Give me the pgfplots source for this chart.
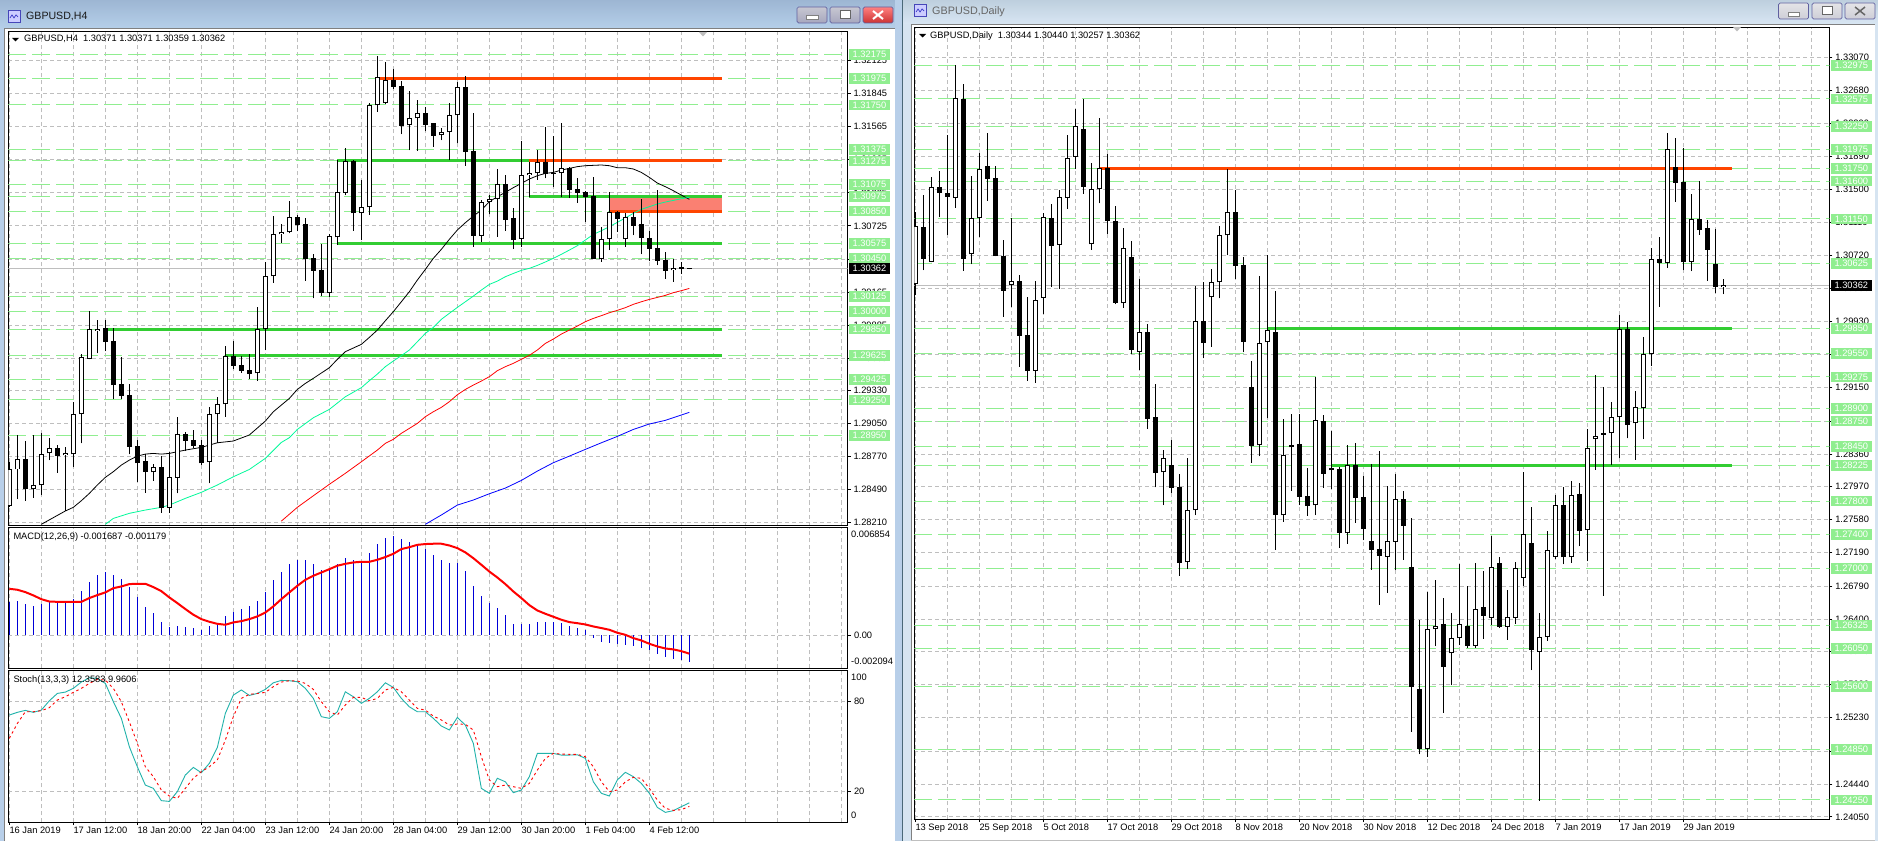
\documentclass[border=0pt]{standalone}
\usepackage{fontspec}
\usepackage{pgfplots}
\usepackage{pgfplotstable}
\pgfplotsset{compat=1.18}
\setmainfont{Liberation Sans}
\definecolor{lg}{RGB}{144,238,144}
\definecolor{gridc}{RGB}{190,190,190}
\definecolor{lime}{RGB}{50,205,50}
\definecolor{orangered}{RGB}{255,69,0}
\definecolor{salmonfill}{RGB}{250,128,114}
\definecolor{macdblue}{RGB}{0,0,215}
\definecolor{maaqua}{RGB}{0,250,154}
\definecolor{stochteal}{RGB}{32,178,170}
\definecolor{bluebord}{RGB}{184,207,233}
\definecolor{lightbord}{RGB}{214,228,241}
\newcommand{\lab}{\fontsize{9.3}{10}\selectfont}

% ---- H4 candles (bull: close above open)
\pgfplotstableread{
k o h l c
0 1.28351 1.28726 1.28345 1.28661
1 1.28661 1.28953 1.28410 1.28746
3 1.28492 1.28953 1.28422 1.28526
4 1.28526 1.28967 1.28444 1.28789
5 1.28797 1.28925 1.28740 1.28839
7 1.28780 1.28854 1.28309 1.28797
8 1.28789 1.29229 1.28684 1.29128
9 1.29128 1.29636 1.28882 1.29611
10 1.29600 1.30003 1.29594 1.29848
11 1.29837 1.29927 1.29644 1.29854
18 1.28636 1.28704 1.28565 1.28679
20 1.28337 1.28811 1.28295 1.28594
21 1.28591 1.29102 1.28459 1.28958
25 1.28721 1.29187 1.28543 1.29128
26 1.29128 1.29272 1.28887 1.29212
27 1.29212 1.29707 1.29108 1.29624
31 1.29475 1.30034 1.29413 1.29848
32 1.29848 1.30419 1.29673 1.30297
33 1.30297 1.30808 1.30243 1.30653
34 1.30653 1.30741 1.30582 1.30670
35 1.30670 1.30936 1.30662 1.30797
40 1.30159 1.30653 1.30125 1.30636
41 1.30628 1.31283 1.30563 1.31009
42 1.31006 1.31385 1.30986 1.31272
44 1.30831 1.31114 1.30605 1.30882
45 1.30882 1.31769 1.30820 1.31746
46 1.31746 1.32164 1.31693 1.31984
47 1.31763 1.32114 1.31758 1.31958
50 1.31577 1.31868 1.31368 1.31636
51 1.31636 1.31792 1.31362 1.31679
54 1.31492 1.31554 1.31452 1.31518
55 1.31518 1.31763 1.31283 1.31662
56 1.31662 1.31941 1.31424 1.31899
59 1.30642 1.30944 1.30591 1.30924
60 1.30924 1.30986 1.30823 1.30950
61 1.30950 1.31207 1.30633 1.31077
64 1.30616 1.31447 1.30549 1.31153
65 1.31153 1.31263 1.30972 1.31170
66 1.31170 1.31368 1.31114 1.31263
69 1.31170 1.31594 1.30967 1.31212
74 1.30447 1.30712 1.30421 1.30611
75 1.30611 1.31012 1.30520 1.30839
77 1.30611 1.30831 1.30549 1.30797
83 1.30348 1.30447 1.30252 1.30365
}\HBull
\pgfplotstableread{
k o h l c
2 1.28746 1.28902 1.28396 1.28492
6 1.28839 1.28867 1.28633 1.28774
12 1.29857 1.29927 1.29664 1.29743
13 1.29746 1.29857 1.29257 1.29376
14 1.29385 1.29611 1.29257 1.29286
15 1.29289 1.29385 1.28789 1.28854
16 1.28859 1.28910 1.28557 1.28712
17 1.28732 1.28792 1.28464 1.28642
19 1.28679 1.28774 1.28295 1.28337
22 1.28958 1.28978 1.28820 1.28905
23 1.28910 1.28995 1.28839 1.28862
24 1.28868 1.28910 1.28698 1.28712
28 1.29624 1.29749 1.29509 1.29540
29 1.29543 1.29622 1.29481 1.29497
30 1.29503 1.29639 1.29430 1.29469
36 1.30797 1.30817 1.30681 1.30735
37 1.30738 1.30789 1.30260 1.30447
38 1.30450 1.30486 1.30111 1.30345
39 1.30348 1.30571 1.30130 1.30159
43 1.31275 1.31283 1.30684 1.30831
48 1.31961 1.32054 1.31888 1.31904
49 1.31907 1.31953 1.31503 1.31574
52 1.31679 1.31735 1.31529 1.31582
53 1.31594 1.31599 1.31396 1.31489
57 1.31899 1.31995 1.31235 1.31354
58 1.31356 1.31679 1.30549 1.30642
62 1.31077 1.31156 1.30684 1.30777
63 1.30789 1.30873 1.30532 1.30608
67 1.31263 1.31566 1.31128 1.31162
68 1.31176 1.31486 1.31057 1.31164
70 1.31212 1.31221 1.30961 1.31032
71 1.31034 1.31130 1.30921 1.31006
72 1.31012 1.31018 1.30760 1.30972
73 1.30975 1.31139 1.30447 1.30447
76 1.30842 1.30851 1.30676 1.30786
78 1.30797 1.30842 1.30647 1.30726
79 1.30738 1.30950 1.30486 1.30625
80 1.30619 1.30684 1.30427 1.30532
81 1.30534 1.31026 1.30393 1.30430
82 1.30433 1.30500 1.30277 1.30345
84 1.30373 1.30418 1.30320 1.30362
85 1.30371 1.30371 1.30359 1.30362
}\HBear

% ---- Daily candles
\pgfplotstableread{
k o h l c
0 1.30374 1.31233 1.30247 1.31063
2 1.30643 1.31652 1.30635 1.31525
5 1.31403 1.32979 1.31285 1.32583
7 1.30730 1.31660 1.30615 1.31158
8 1.31158 1.31930 1.30940 1.31740
12 1.30370 1.31158 1.30109 1.30410
15 1.29349 1.30414 1.29206 1.30184
16 1.30216 1.31217 1.30022 1.31170
18 1.30845 1.31494 1.30323 1.31407
19 1.31403 1.32147 1.31269 1.31871
20 1.31890 1.32456 1.31744 1.32250
22 1.30849 1.31811 1.30782 1.31502
23 1.31502 1.32350 1.31336 1.31752
26 1.30148 1.31039 1.30097 1.30802
28 1.29574 1.30434 1.29356 1.29804
31 1.28141 1.28406 1.27753 1.28307
34 1.27072 1.28307 1.26997 1.27690
35 1.27690 1.30354 1.27634 1.29935
37 1.30220 1.30552 1.29634 1.30398
38 1.30398 1.31067 1.30208 1.30956
39 1.30956 1.31740 1.30722 1.31229
43 1.28462 1.30473 1.28335 1.29673
44 1.29685 1.30722 1.28782 1.29828
46 1.27630 1.28770 1.27555 1.28343
47 1.28438 1.28830 1.27923 1.28462
50 1.27749 1.29273 1.27634 1.28759
52 1.28165 1.28632 1.27943 1.28189
54 1.27425 1.28466 1.27294 1.28224
59 1.27139 1.27979 1.26712 1.27322
60 1.27318 1.28121 1.26981 1.27821
64 1.24851 1.26716 1.24764 1.26276
65 1.26276 1.26862 1.26078 1.26312
67 1.25992 1.26466 1.25615 1.26170
68 1.26170 1.27048 1.26090 1.26336
70 1.26082 1.27060 1.26059 1.26514
72 1.26415 1.27385 1.26328 1.27013
74 1.26308 1.26739 1.26150 1.26419
75 1.26415 1.27072 1.26340 1.27001
76 1.26890 1.28145 1.26795 1.27405
78 1.26011 1.26466 1.24241 1.26189
79 1.26189 1.27444 1.26142 1.27215
80 1.27139 1.27872 1.27116 1.27749
82 1.27131 1.28038 1.27068 1.27868
84 1.27452 1.28656 1.27088 1.28426
85 1.28533 1.29297 1.28169 1.28569
87 1.28604 1.28980 1.28228 1.28794
88 1.28794 1.30010 1.28307 1.29840
90 1.28723 1.29107 1.28288 1.28913
91 1.28901 1.29752 1.28537 1.29543
92 1.29543 1.30806 1.29408 1.30671
94 1.30631 1.32171 1.30572 1.31977
97 1.30643 1.31447 1.30532 1.31146
101 1.30344 1.30440 1.30257 1.30362
}\DBull
\pgfplotstableread{
k o h l c
1 1.31051 1.31434 1.30544 1.30679
3 1.31525 1.31716 1.31170 1.31462
4 1.31458 1.32147 1.30960 1.31415
6 1.32575 1.32753 1.30536 1.30679
9 1.31779 1.32167 1.31368 1.31629
10 1.31637 1.31779 1.30710 1.30710
11 1.30710 1.30900 1.29990 1.30299
13 1.30410 1.30485 1.29396 1.29764
14 1.29772 1.30220 1.29230 1.29349
17 1.31162 1.31328 1.30346 1.30829
21 1.32215 1.32575 1.31447 1.31534
24 1.31752 1.31922 1.30972 1.31130
25 1.31126 1.31304 1.30140 1.30156
27 1.30699 1.30889 1.29547 1.29594
29 1.29812 1.29903 1.28656 1.28774
30 1.28798 1.29190 1.27963 1.28137
32 1.28228 1.28525 1.27900 1.27959
33 1.27967 1.28121 1.26914 1.27068
36 1.29935 1.30398 1.29495 1.29681
40 1.31229 1.31494 1.30441 1.30596
41 1.30600 1.30695 1.29570 1.29693
42 1.29155 1.29463 1.28256 1.28458
45 1.29808 1.30295 1.27219 1.27638
48 1.28478 1.28834 1.27753 1.27852
49 1.27860 1.28192 1.27626 1.27745
51 1.28751 1.28822 1.27959 1.28125
53 1.28177 1.28208 1.27246 1.27425
55 1.28228 1.28490 1.27543 1.27840
56 1.27848 1.28097 1.27337 1.27472
57 1.27326 1.28236 1.26985 1.27222
58 1.27230 1.28394 1.26566 1.27151
61 1.27825 1.27919 1.27100 1.27507
62 1.27013 1.27595 1.25061 1.25595
63 1.25568 1.26387 1.24795 1.24855
66 1.26336 1.26645 1.25286 1.25833
69 1.26316 1.26791 1.26059 1.26082
71 1.26542 1.26969 1.26165 1.26439
73 1.27060 1.27131 1.26296 1.26308
77 1.27298 1.27725 1.25793 1.26035
81 1.27753 1.27967 1.27052 1.27131
83 1.27884 1.28010 1.27266 1.27448
86 1.28604 1.29159 1.26676 1.28589
89 1.29840 1.29931 1.28545 1.28707
93 1.30675 1.30936 1.30109 1.30631
95 1.31767 1.32112 1.31352 1.31581
96 1.31589 1.31997 1.30544 1.30643
98 1.31146 1.31601 1.30960 1.31019
99 1.31039 1.31138 1.30414 1.30786
100 1.30615 1.31031 1.30267 1.30346
}\DBear

% ---- support / resistance levels
\pgfplotstableread{
p
1.32175
1.31975
1.31750
1.31375
1.31275
1.31075
1.30975
1.30850
1.30575
1.30450
1.30125
1.30000
1.29850
1.29625
1.29425
1.29250
1.28950
}\LvlH
\pgfplotstableread{
p
1.32975
1.32575
1.32250
1.31975
1.31750
1.31600
1.31150
1.30625
1.29850
1.29550
1.29275
1.28900
1.28750
1.28450
1.28225
1.27800
1.27400
1.27000
1.26325
1.26050
1.25600
1.24850
1.24250
}\LvlD

% ---- MACD histogram and signal
\pgfplotstableread{
k v s
0 0.00208 0.00295
1 0.00219 0.00289
2 0.00200 0.00274
3 0.00187 0.00253
4 0.00200 0.00229
5 0.00208 0.00214
6 0.00208 0.00212
7 0.00208 0.00212
8 0.00231 0.00212
9 0.00282 0.00212
10 0.00340 0.00236
11 0.00384 0.00255
12 0.00403 0.00272
13 0.00384 0.00299
14 0.00359 0.00310
15 0.00304 0.00325
16 0.00240 0.00327
17 0.00180 0.00327
18 0.00144 0.00306
19 0.00081 0.00280
20 0.00049 0.00240
21 0.00055 0.00204
22 0.00053 0.00166
23 0.00047 0.00130
24 0.00034 0.00102
25 0.00055 0.00085
26 0.00066 0.00072
27 0.00123 0.00066
28 0.00149 0.00081
29 0.00168 0.00089
30 0.00183 0.00102
31 0.00219 0.00119
32 0.00276 0.00144
33 0.00352 0.00183
34 0.00403 0.00229
35 0.00454 0.00272
36 0.00480 0.00314
37 0.00476 0.00352
38 0.00454 0.00378
39 0.00416 0.00399
40 0.00429 0.00420
41 0.00454 0.00442
42 0.00493 0.00454
43 0.00476 0.00463
44 0.00467 0.00467
45 0.00524 0.00467
46 0.00582 0.00480
47 0.00620 0.00497
48 0.00633 0.00518
49 0.00614 0.00548
50 0.00594 0.00560
51 0.00575 0.00575
52 0.00550 0.00580
53 0.00512 0.00582
54 0.00480 0.00582
55 0.00461 0.00571
56 0.00461 0.00554
57 0.00410 0.00527
58 0.00314 0.00490
59 0.00251 0.00448
60 0.00206 0.00405
61 0.00174 0.00367
62 0.00130 0.00325
63 0.00072 0.00278
64 0.00072 0.00236
65 0.00072 0.00191
66 0.00085 0.00157
67 0.00081 0.00136
68 0.00081 0.00117
69 0.00079 0.00098
70 0.00059 0.00083
71 0.00047 0.00076
72 0.00034 0.00068
73 -0.00017 0.00055
74 -0.00042 0.00045
75 -0.00049 0.00034
76 -0.00055 0.00015
77 -0.00062 0.00002
78 -0.00068 -0.00019
79 -0.00081 -0.00034
80 -0.00093 -0.00055
81 -0.00119 -0.00072
82 -0.00138 -0.00085
83 -0.00151 -0.00091
84 -0.00157 -0.00102
85 -0.00169 -0.00118
}\Macd

% ---- Stochastic main and signal
\pgfplotstableread{
k m s
0 70.9 55.3
1 72.7 65.3
2 74.0 73.1
3 72.7 73.1
4 74.2 73.8
5 80.4 75.8
6 85.3 80.9
7 86.2 83.1
8 88.7 86.0
9 92.9 88.7
10 95.8 92.0
11 95.3 94.7
12 92.0 94.2
13 79.8 88.7
14 68.7 79.8
15 49.8 66.4
16 36.4 52.0
17 24.2 36.4
18 22.0 29.8
19 13.8 20.9
20 13.3 16.9
21 19.8 15.3
22 30.9 22.0
23 36.0 28.7
24 32.4 33.1
25 38.7 36.4
26 49.3 40.9
27 72.0 54.2
28 84.2 69.8
29 87.6 82.0
30 84.0 84.7
31 85.3 85.3
32 88.0 86.0
33 92.4 89.8
34 94.0 92.9
35 93.8 93.8
36 93.1 93.6
37 88.7 92.0
38 82.0 88.0
39 69.8 79.8
40 68.7 73.1
41 73.1 70.9
42 86.4 77.6
43 83.1 82.7
44 78.7 82.7
45 82.0 80.4
46 86.4 82.0
47 92.4 87.6
48 89.3 89.3
49 82.0 86.4
50 76.4 80.9
51 73.1 75.3
52 73.1 74.2
53 68.7 70.2
54 63.6 67.6
55 60.9 64.2
56 69.3 64.9
57 64.2 64.7
58 52.0 60.9
59 22.0 43.1
60 18.7 27.6
61 28.7 23.1
62 26.4 24.2
63 19.1 23.1
64 20.9 22.0
65 29.8 25.3
66 45.3 34.2
67 45.3 42.0
68 45.3 45.3
69 44.2 44.9
70 44.2 44.7
71 44.4 44.7
72 42.0 43.1
73 26.4 36.4
74 18.7 26.4
75 16.9 19.8
76 27.6 20.9
77 32.7 26.4
78 29.8 29.3
79 25.3 28.7
80 18.7 22.0
81 9.3 14.2
82 6.0 8.7
83 7.1 7.3
84 9.8 7.8
85 12.36 9.96
}\Stoch

\pgfplotsset{
  pane/.style={scale only axis, axis line style={black, line width=1pt},
    tick style={black, line width=.8pt}, tick align=outside,
    major tick length=3pt, minor tick length=0pt, scaled y ticks=false,
    ticklabel style={font=\lab, text=black},
    grid style={gridc, line width=.8pt, dash pattern=on 4pt off 3pt},
    xmajorgrids, xminorgrids, ymajorgrids,
    ytick pos=right, xtick pos=lower, yticklabel pos=right,
    yticklabel style={anchor=west, inner xsep=0pt, xshift=2.8pt},
    xticklabel style={anchor=north west, inner xsep=0pt, inner ysep=0pt, yshift=-1.5pt}},
  hframe/.style={anchor=south west, width=839.2pt, xmin=-0.13, xmax=104.77},
  dframe/.style={anchor=south west, at={(914.3pt,22pt)}, width=915pt, height=791.5pt,
    xmin=-0.13, xmax=114.25, ymin=1.24024, ymax=1.33424},
  hmain/.style={hframe, at={(8.3pt,315.5pt)}, height=493.5pt, ymin=1.28186, ymax=1.32368},
  nomark/.style={only marks, mark=*, mark size=0pt, mark options={draw=none, fill=none}, forget plot,
    error bars/error mark=none},
  bar/.style 2 args={nomark,
    error bars/y dir=plus, error bars/y explicit,
    error bars/error bar style={solid, line width=#1, color=#2}},
  level/.style={nomark,
    error bars/x dir=plus, error bars/x fixed=200,
    error bars/error bar style={lg, line width=1pt, dash pattern=on 18pt off 6pt}},
  hline/.style={line width=3pt, forget plot, mark=none},
  ma/.style={line width=.8pt, forget plot, mark=none},
  pricebox/.style={only marks, mark=*, mark size=0pt, mark options={draw=none}, forget plot,
    point meta=explicit symbolic, nodes near coords,
    nodes near coords style={anchor=center, inner sep=0pt, minimum width=41pt,
      minimum height=10.7pt, fill=#1, text=white, font=\lab}},
}
\newcommand{\candles}[3]{%
  \addplot[bar={1pt}{black}] table[x=k, y=l, y error plus expr=\thisrow{h}-\thisrow{l}] {#1};
  \addplot[bar={1pt}{black}] table[x=k, y=l, y error plus expr=\thisrow{h}-\thisrow{l}] {#2};
  \addplot[bar={5pt}{black}] table[x=k, y=c, y error plus expr=\thisrow{o}-\thisrow{c}] {#2};
  \addplot[bar={5pt}{black}] table[x=k, y=o, y error plus expr=\thisrow{c}-\thisrow{o}] {#1};
  \addplot[bar={3pt}{white}] table[x=k, y expr=\thisrow{o}+#3, y error plus expr=\thisrow{c}-\thisrow{o}-2*#3] {#1};
}
\newcommand{\winbtn}[6]{% x0 x1 y0 y1 top bottom
  \shade[top color=#5, bottom color=#6, draw=gray!75!blue, rounded corners=1.5pt, line width=.7pt]
    (#1,#3) rectangle (#2,#4);
}
\newcommand{\winicon}[2]{%
  \fill[white!80!blue, draw=blue!45!gray, line width=.7pt] (#1,#2) rectangle ++(12,-12);
  \draw[blue!55!gray, line width=.7pt] (#1+2,#2-8) -- ++(2,3) -- ++(2,-3) -- ++(2,3) -- ++(2,-2);
}

\begin{document}
\begin{tikzpicture}[x=1pt, y=1pt]
\fill[white] (0,0) rectangle (1878,841);
% window chrome
\fill[bluebord] (0,0) rectangle (4,813);
\shade[top color={rgb,255:red,157;green,182;blue,211}, bottom color={rgb,255:red,181;green,207;blue,233}] (0,813) rectangle (895,841);
\draw[gray, line width=.8pt] (4.5,0) -- (4.5,813) -- (895,813);
\fill[bluebord] (895,0) rectangle (901.6,841);
\fill[black!60!cyan] (901.6,0) rectangle (903,841);
\fill[lightbord] (903,0) rectangle (911,817);
\shade[top color={rgb,255:red,190;green,207;blue,222}, bottom color={rgb,255:red,216;green,230;blue,243}] (903,817) rectangle (1878,841);
\draw[gray, line width=.9pt] (911,0.5) -- (911,817) -- (1875,817);
\draw[gray!50, line width=.8pt] (911,0.5) -- (1875,0.5) -- (1875,817);
\fill[lightbord] (1875.4,0) rectangle (1878,817);
\winicon{8}{831}
\winicon{914}{837}
\node[anchor=west, inner sep=0pt, font=\fontsize{10.6}{12}\selectfont, text=black!90] at (26,825) {GBPUSD,H4};
\node[anchor=west, inner sep=0pt, font=\fontsize{10.8}{12}\selectfont, text=black!60] at (932,829) {GBPUSD,Daily};
\winbtn{797}{827}{818}{834}{blue!10!gray!40}{blue!15!gray!60}
\winbtn{830}{860}{818}{834}{blue!10!gray!40}{blue!15!gray!60}
\winbtn{863}{893}{818}{834}{red!50!white}{red!60!gray}
\fill[white, draw=gray, line width=.5pt] (806,822) rectangle (818,826);
\draw[black!60, line width=1pt, fill=white] (840,822) rectangle (850,830);
\draw[white, line width=2pt] (873,822) -- (883,830) (873,830) -- (883,822);
\winbtn{1778.5}{1808.5}{822}{838}{blue!5!gray!20}{blue!10!gray!35}
\winbtn{1812}{1842}{822}{838}{blue!5!gray!20}{blue!10!gray!35}
\winbtn{1845}{1875}{822}{838}{blue!5!gray!20}{blue!10!gray!35}
\fill[white, draw=gray, line width=.5pt] (1788,825) rectangle (1799,829);
\draw[black!60, line width=1pt, fill=white] (1822,826) rectangle (1832,834);
\draw[black!60, line width=1.5pt] (1855,826) -- (1865,834) (1855,834) -- (1865,826);

% H4 main pane
\begin{axis}[pane, hmain, xtick={0,4,...,104}, xticklabels={}, xtick style={draw=none},
  ytick={1.32125,1.31845,1.31565,1.31285,1.31005,1.30725,1.30445,1.30165,1.29885,1.29605,1.29330,1.29050,1.28770,1.28490,1.28210},
  yticklabels={1.32125,1.31845,1.31565,1.31285,1.31005,1.30725,1.30445,1.30165,1.29885,1.29605,1.29330,1.29050,1.28770,1.28490,1.28210}]
\addplot[level] table[x expr=-0.13, y=p] {\LvlH};
\addplot[ma, gridc, line width=1pt] coordinates {(-0.13,1.30362) (104.77,1.30362)};
\addplot[fill=salmonfill, draw=none, forget plot] coordinates {(75,1.30975) (89.05,1.30975) (89.05,1.30850) (75,1.30850)} -- cycle;
\addplot[hline, orangered] coordinates {(46.3,1.31975) (89.05,1.31975)};
\addplot[hline, lime] coordinates {(41,1.31275) (65,1.31275)};
\addplot[hline, orangered] coordinates {(65,1.31275) (89.05,1.31275)};
\addplot[hline, lime] coordinates {(65,1.30975) (89.05,1.30975)};
\addplot[hline, orangered] coordinates {(75,1.30850) (89.05,1.30850)};
\addplot[hline, lime] coordinates {(41,1.30575) (89.05,1.30575)};
\addplot[hline, lime] coordinates {(12,1.29850) (89.05,1.29850)};
\addplot[hline, lime] coordinates {(27,1.29625) (89.05,1.29625)};
\addplot[ma, black] coordinates {(4,1.28196)(7,1.28309)(8,1.28340)(9,1.28396)(10,1.28458)(11,1.28529)(12,1.28594)(13,1.28642)(14,1.28698)(15,1.28740)(16,1.28774)(17,1.28791)(18,1.28797)(19,1.28791)(20,1.28797)(21,1.28811)(22,1.28825)(24,1.28848)(26,1.28887)(28,1.28902)(30,1.28953)(32,1.29071)(33,1.29150)(35,1.29263)(36,1.29339)(37,1.29390)(38,1.29433)(40,1.29523)(41,1.29594)(42,1.29659)(44,1.29721)(45,1.29780)(46,1.29842)(47,1.29921)(48,1.29998)(49,1.30082)(50,1.30167)(51,1.30266)(52,1.30356)(53,1.30450)(54,1.30526)(55,1.30611)(56,1.30690)(57,1.30752)(58,1.30808)(59,1.30859)(60,1.30930)(61,1.30972)(62,1.31009)(63,1.31049)(64,1.31085)(65,1.31122)(66,1.31150)(67,1.31170)(68,1.31178)(69,1.31198)(70,1.31212)(71,1.31227)(72,1.31235)(73,1.31238)(74,1.31241)(75,1.31235)(76,1.31218)(77,1.31218)(78,1.31207)(79,1.31178)(80,1.31136)(81,1.31088)(82,1.31057)(83,1.31023)(84,1.30986)(85,1.30950)};
\addplot[ma, maaqua] coordinates {(12,1.28196)(13,1.28246)(15,1.28289)(17,1.28317)(19,1.28340)(20,1.28359)(22,1.28416)(24,1.28467)(26,1.28529)(28,1.28599)(30,1.28661)(32,1.28755)(34,1.28890)(35,1.28930)(36,1.29000)(38,1.29099)(40,1.29170)(42,1.29277)(44,1.29354)(45,1.29413)(46,1.29469)(47,1.29532)(48,1.29580)(49,1.29625)(50,1.29673)(51,1.29743)(52,1.29814)(53,1.29865)(54,1.29933)(55,1.29984)(56,1.30034)(57,1.30082)(58,1.30130)(59,1.30181)(60,1.30229)(61,1.30257)(62,1.30294)(63,1.30322)(64,1.30348)(65,1.30365)(66,1.30390)(67,1.30419)(68,1.30450)(69,1.30484)(70,1.30520)(71,1.30557)(72,1.30605)(73,1.30653)(74,1.30684)(75,1.30718)(76,1.30755)(77,1.30792)(78,1.30831)(79,1.30865)(80,1.30888)(81,1.30910)(82,1.30927)(83,1.30941)(84,1.30955)(85,1.30967)};
\addplot[ma, red] coordinates {(34,1.28223)(36,1.28340)(38,1.28438)(40,1.28535)(42,1.28628)(44,1.28726)(46,1.28825)(47,1.28882)(48,1.28916)(49,1.28967)(50,1.29009)(51,1.29051)(52,1.29108)(53,1.29150)(54,1.29187)(55,1.29235)(56,1.29294)(57,1.29339)(58,1.29376)(59,1.29410)(60,1.29447)(61,1.29498)(62,1.29532)(63,1.29560)(64,1.29594)(65,1.29628)(66,1.29673)(67,1.29729)(68,1.29766)(69,1.29808)(70,1.29842)(71,1.29876)(72,1.29913)(73,1.29941)(74,1.29964)(75,1.29989)(76,1.30009)(77,1.30032)(78,1.30060)(79,1.30082)(80,1.30102)(81,1.30119)(82,1.30136)(83,1.30159)(84,1.30176)(85,1.30195)};
\addplot[ma, blue] coordinates {(52,1.28196)(54,1.28275)(56,1.28359)(58,1.28402)(60,1.28455)(62,1.28503)(64,1.28568)(66,1.28647)(68,1.28718)(70,1.28774)(72,1.28831)(74,1.28887)(76,1.28941)(78,1.29000)(80,1.29046)(82,1.29077)(84,1.29122)(85,1.29145)};
\candles{\HBull}{\HBear}{0.00008}
\end{axis}

% H4 MACD pane
\begin{axis}[pane, hframe, at={(8.3pt,173pt)}, height=140.5pt, ymin=-0.002094, ymax=0.006854,
  xtick={0,4,...,104}, xticklabels={}, xtick style={draw=none},
  ytick={0}, yticklabels={0.00}, yticklabel style={xshift=0.5pt}]
\addplot[ycomb, macdblue, line width=1pt, mark=none, forget plot] table[x=k, y=v] {\Macd};
\addplot[red, line width=2pt, mark=none, forget plot] table[x=k, y=s] {\Macd};
\end{axis}

% H4 stochastic pane
\begin{axis}[pane, hframe, at={(8.3pt,19pt)}, height=151.5pt, ymin=-0.44, ymax=100.6,
  xtick={0,8,...,80}, minor xtick={4,12,...,76,84,88,92,96,100,104},
  xticklabels={16 Jan 2019,17 Jan 12:00,18 Jan 20:00,22 Jan 04:00,23 Jan 12:00,24 Jan 20:00,28 Jan 04:00,29 Jan 12:00,30 Jan 20:00,1 Feb 04:00,4 Feb 12:00},
  ytick={20,80}, yticklabels={20,80}, yticklabel style={xshift=0.5pt}]
\addplot[stochteal, line width=.9pt, mark=none, forget plot] table[x=k, y=m] {\Stoch};
\addplot[red, line width=.9pt, dash pattern=on 2.5pt off 3pt, mark=none, forget plot] table[x=k, y=s] {\Stoch};
\end{axis}

% H4 price labels sit on top of the tick labels
\begin{axis}[hide axis, scale only axis, hmain, clip=false]
\addplot[pricebox=lg] table[x expr=107.52, y=p, meta=p] {\LvlH};
\addplot[pricebox=black] coordinates {(107.52,1.30362) [1.30362]};
\end{axis}

% Daily pane
\begin{axis}[pane, dframe,
  xtick={0,8,...,96}, minor xtick={4,12,...,92,100,104,108,112},
  xticklabels={13 Sep 2018,25 Sep 2018,5 Oct 2018,17 Oct 2018,29 Oct 2018,8 Nov 2018,20 Nov 2018,30 Nov 2018,12 Dec 2018,24 Dec 2018,7 Jan 2019,17 Jan 2019,29 Jan 2019},
  ytick={1.33070,1.32680,1.32290,1.31890,1.31500,1.31110,1.30720,1.30330,1.29930,1.29540,1.29150,1.28750,1.28360,1.27970,1.27580,1.27190,1.26790,1.26400,1.26010,1.25620,1.25230,1.24830,1.24440,1.24050},
  yticklabels={1.33070,1.32680,1.32290,1.31890,1.31500,1.31110,1.30720,1.30330,1.29930,1.29540,1.29150,1.28750,1.28360,1.27970,1.27580,1.27190,1.26790,1.26400,1.26010,1.25620,1.25230,1.24830,1.24440,1.24050}]
\addplot[level] table[x expr=-0.13, y=p] {\LvlD};
\addplot[ma, gridc, line width=1pt] coordinates {(-0.13,1.30362) (114.25,1.30362)};
\addplot[hline, orangered] coordinates {(23,1.31750) (102.1,1.31750)};
\addplot[hline, lime] coordinates {(44,1.29850) (102.1,1.29850)};
\addplot[hline, lime] coordinates {(52,1.28225) (102.1,1.28225)};
\candles{\DBull}{\DBear}{0.00012}
\end{axis}
\begin{axis}[hide axis, scale only axis, dframe, clip=false]
\addplot[pricebox=lg] table[x expr=117, y=p, meta=p] {\LvlD};
\addplot[pricebox=black] coordinates {(117,1.30362) [1.30362]};
\end{axis}

% texts and small markers
\fill[black] (12,803) -- (19,803) -- (15.5,799.5) -- cycle;
\fill[black] (919,807) -- (926,807) -- (922.5,803.5) -- cycle;
\fill[gridc] (699,809) -- (707,809) -- (703,804.5) -- cycle;
\fill[gridc] (1733,814) -- (1741,814) -- (1737,809.5) -- cycle;
\node[anchor=west, inner sep=0pt, font=\lab] at (24,801.7) {GBPUSD,H4\ \ 1.30371 1.30371 1.30359 1.30362};
\node[anchor=west, inner sep=0pt, font=\lab] at (930,805.3) {GBPUSD,Daily\ \ 1.30344 1.30440 1.30257 1.30362};
\node[anchor=west, inner sep=0pt, font=\lab] at (13.3,304.3) {MACD(12,26,9) -0.001687 -0.001179};
\node[anchor=west, inner sep=0pt, font=\lab] at (13.3,161) {Stoch(13,3,3) 12.3583 9.9606};
\node[anchor=west, inner sep=0pt, font=\lab] at (851,307) {0.006854};
\node[anchor=west, inner sep=0pt, font=\lab] at (851,179.7) {-0.002094};
\node[anchor=west, inner sep=0pt, font=\lab] at (851,163.3) {100};
\node[anchor=west, inner sep=0pt, font=\lab] at (851,25.3) {0};
\end{tikzpicture}
\end{document}
